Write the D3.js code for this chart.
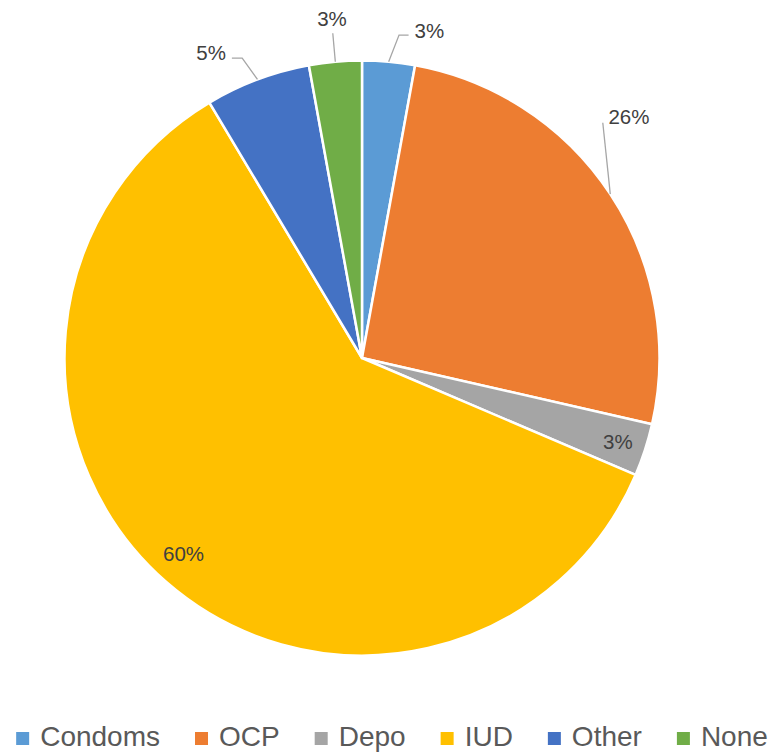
<!DOCTYPE html>
<html>
<head>
<meta charset="utf-8">
<script src="https://cdn.jsdelivr.net/npm/d3@7"></script>
<style>
    body { margin: 0; background: #fff; }
    svg { display: block; }
    .lbl { font-family: "Liberation Sans", Arial, sans-serif; font-size: 20.5px; fill: #404040; }
    .legend text { font-family: "Liberation Sans", Arial, sans-serif; font-size: 28px; fill: #595959; }
</style>
</head>
<body>
<div class="chart"></div>
<script>
(function() {
    // data
    var categories = ["Condoms", "OCP", "Depo", "IUD", "Other", "None"];
    var counts = [1, 9, 1, 21, 2, 1];
    var pctLabels = ["3%", "26%", "3%", "60%", "5%", "3%"];
    var colors = ["#5B9BD5", "#ED7D31", "#A5A5A5", "#FFC000", "#4472C4", "#70AD47"];

    var width = 779;
    var height = 755;
    var cx = 362, cy = 358, radius = 297.5;

    // label placement, polar offsets relative to each slice's mid angle (degrees)
    var labelLayout = {
        "Condoms": { inside: false, dA: 6.5, r: 334, elbowDA: 1.4, elbowR: 325, hook: true },
        "OCP":     { inside: false, dA: -8.7, r: 360, elbowDA: -10.9, elbowR: 336.6, hook: false },
        "Depo":    { inside: true, dA: 0, r: 269 },
        "IUD":     { inside: true, dA: 1.2, r: 265 },
        "Other":   { inside: false, dA: -5.7, r: 341, elbowDA: -1.2, elbowR: 323, hook: true },
        "None":    { inside: false, dA: 0.1, r: 341, elbowDA: 0, elbowR: 326, hook: false }
    };

    var data = categories.map(function(c, i) {
        return { name: c, value: counts[i], label: pctLabels[i], color: colors[i] };
    });

    var color = d3.scaleOrdinal().domain(categories).range(colors);

    var pie = d3.pie().sort(null).value(function(d) { return d.value; });
    var arc = d3.arc().innerRadius(0).outerRadius(radius);

    function pt(deg, r) {
        var a = deg * Math.PI / 180;
        return [cx + r * Math.sin(a), cy - r * Math.cos(a)];
    }

    var svg = d3.select(".chart")
        .append("svg")
            .attr("width", width)
            .attr("height", height);

    var g = svg.append("g")
        .attr("transform", "translate(" + cx + "," + cy + ")");

    var arcs = pie(data);

    g.selectAll("path.slice")
        .data(arcs)
        .enter().append("path")
            .attr("class", "slice")
            .attr("d", arc)
            .attr("fill", function(d) { return color(d.data.name); })
            .attr("stroke", "#fff")
            .attr("stroke-width", 2.5)
            .attr("stroke-linejoin", "round");

    // data labels + leader lines
    arcs.forEach(function(d) {
        var lay = labelLayout[d.data.name];
        var mid = (d.startAngle + d.endAngle) / 2 * 180 / Math.PI;
        var p = pt(mid + lay.dA, lay.r);

        var t = svg.append("text")
            .attr("class", "lbl")
            .attr("x", p[0])
            .attr("y", p[1])
            .attr("dy", "0.36em")
            .attr("text-anchor", "middle")
            .text(d.data.label);

        if (lay.inside) return;

        var box = t.node().getBBox();
        var start = pt(mid, radius);
        var elbow = pt(mid + lay.elbowDA, lay.elbowR);
        var pts = [start, elbow];
        if (lay.hook) {
            var endX = elbow[0] < box.x ? box.x - 6 : box.x + box.width + 6;
            pts.push([endX, elbow[1]]);
        }
        svg.append("path")
            .attr("d", d3.line()(pts))
            .attr("fill", "none")
            .attr("stroke", "#A6A6A6")
            .attr("stroke-width", 1.3);
    });

    // legend
    var legend = svg.append("g").attr("class", "legend");
    var sq = 13, gapIn = 11, gapOut = 35, baseY = 746;
    var items = legend.selectAll("g")
        .data(data)
        .enter().append("g");

    items.append("rect")
        .attr("width", sq)
        .attr("height", sq)
        .attr("y", baseY - 14)
        .attr("fill", function(d) { return color(d.name); });

    items.append("text")
        .attr("x", sq + gapIn)
        .attr("y", baseY)
        .text(function(d) { return d.name; });

    var xPos = 0;
    var offsets = [];
    items.each(function() {
        offsets.push(xPos);
        var w = sq + gapIn + d3.select(this).select("text").node().getComputedTextLength();
        xPos += w + gapOut;
    });
    var total = xPos - gapOut;
    var startX = 392 - total / 2;
    items.attr("transform", function(d, i) { return "translate(" + (startX + offsets[i]) + ",0)"; });
})();
</script>
</body>
</html>
